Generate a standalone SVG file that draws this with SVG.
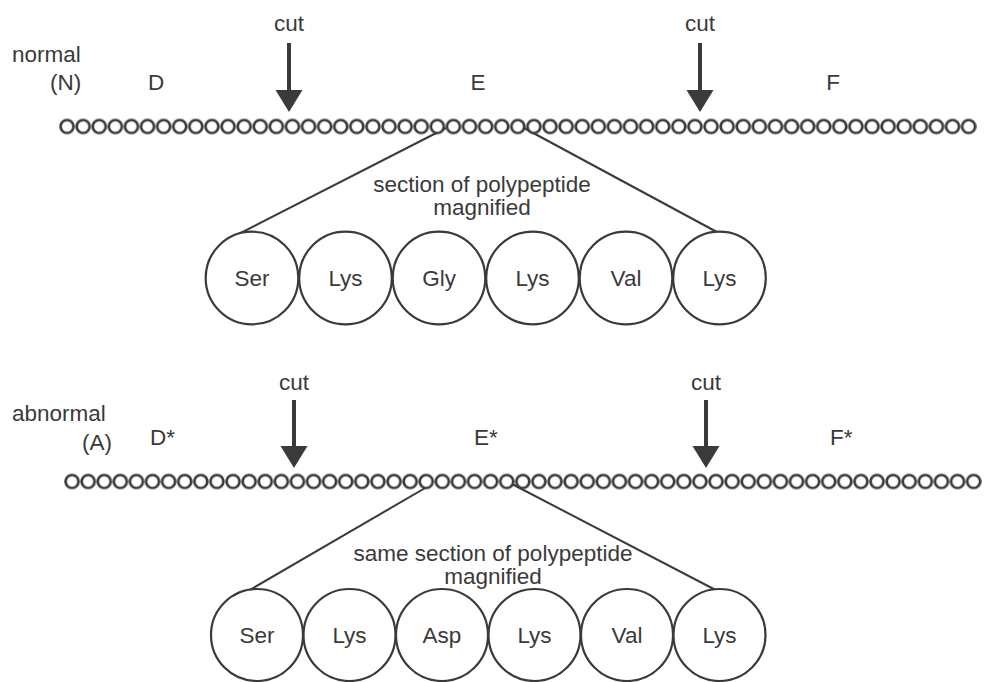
<svg xmlns="http://www.w3.org/2000/svg" width="986" height="682" viewBox="0 0 986 682">
  <style>
    text { font-family: "Liberation Sans", Arial, sans-serif; font-size: 22.5px; fill: #3a3a3a; }
    .mid { text-anchor: middle; }
    .residue { fill: #ffffff; stroke: #3a3a3a; stroke-width: 2.2; }
    .link { stroke: #3a3a3a; stroke-width: 2; fill: none; }
    .shaft { stroke: #3a3a3a; stroke-width: 4; fill: none; }
  </style>
  <defs>
    <!-- one bead of the polypeptide chain, repeated along the strand -->
    <pattern id="beadsTop" patternUnits="userSpaceOnUse" x="59" y="118.5" width="16.1" height="16">
      <circle cx="8.05" cy="8" r="6.5" fill="#ffffff" stroke="#3a3a3a" stroke-width="2.7"/>
    </pattern>
    <pattern id="beadsBottom" patternUnits="userSpaceOnUse" x="64" y="473.5" width="16.1" height="16">
      <circle cx="8.05" cy="8" r="6.5" fill="#ffffff" stroke="#3a3a3a" stroke-width="2.7"/>
    </pattern>
    <marker id="head" markerUnits="userSpaceOnUse" markerWidth="24" markerHeight="28" refX="0" refY="13.5" orient="auto">
      <path d="M0,0 L22,13.5 L0,27 Z" fill="#3a3a3a"/>
    </marker>
  </defs>

  <!-- connectors: cut arrows and magnification lines (drawn first so residue circles sit on top) -->
  <g id="connectors">
    <line class="shaft" x1="289" y1="43" x2="289" y2="90" marker-end="url(#head)"/>
    <line class="shaft" x1="700" y1="43" x2="700" y2="90" marker-end="url(#head)"/>
    <line class="shaft" x1="294" y1="400" x2="294" y2="446" marker-end="url(#head)"/>
    <line class="shaft" x1="706" y1="400" x2="706" y2="446" marker-end="url(#head)"/>
    <line class="link" x1="446" y1="128" x2="231" y2="238"/>
    <line class="link" x1="524" y1="128" x2="728" y2="238"/>
    <line class="link" x1="432" y1="484" x2="236" y2="598"/>
    <line class="link" x1="512" y1="484" x2="731" y2="598"/>
  </g>

  <!-- normal polypeptide -->
  <g id="normal-label">
    <text x="12" y="62">normal</text>
    <text x="50" y="90">(N)</text>
  </g>
  <g id="normal-regions">
    <text x="148" y="90">D</text>
    <text class="mid" x="478" y="90">E</text>
    <text class="mid" x="833" y="90">F</text>
  </g>
  <g id="normal-cut-left">
    <text class="mid" x="289" y="31">cut</text>
  </g>
  <g id="normal-cut-right">
    <text class="mid" x="700" y="31">cut</text>
  </g>
  <g id="normal-chain">
    <rect x="59" y="118.5" width="918" height="16" fill="url(#beadsTop)"/>
  </g>
  <g id="normal-magnified-caption">
    <text class="mid" x="482" y="192">section of polypeptide</text>
    <text class="mid" x="482" y="215">magnified</text>
  </g>
  <g id="normal-residues">
    <g id="n-ser"><circle class="residue" cx="252" cy="278" r="46.3"/><text class="mid" x="252" y="286">Ser</text></g>
    <g id="n-lys1"><circle class="residue" cx="345.5" cy="278" r="46.3"/><text class="mid" x="345.5" y="286">Lys</text></g>
    <g id="n-gly"><circle class="residue" cx="439" cy="278" r="46.3"/><text class="mid" x="439" y="286">Gly</text></g>
    <g id="n-lys2"><circle class="residue" cx="532.5" cy="278" r="46.3"/><text class="mid" x="532.5" y="286">Lys</text></g>
    <g id="n-val"><circle class="residue" cx="626" cy="278" r="46.3"/><text class="mid" x="626" y="286">Val</text></g>
    <g id="n-lys3"><circle class="residue" cx="719.5" cy="278" r="46.3"/><text class="mid" x="719.5" y="286">Lys</text></g>
  </g>

  <!-- abnormal polypeptide -->
  <g id="abnormal-label">
    <text x="12" y="421">abnormal</text>
    <text x="82" y="450">(A)</text>
  </g>
  <g id="abnormal-regions">
    <text x="150" y="445">D*</text>
    <text x="474" y="445">E*</text>
    <text x="830" y="445">F*</text>
  </g>
  <g id="abnormal-cut-left">
    <text class="mid" x="294" y="390">cut</text>
  </g>
  <g id="abnormal-cut-right">
    <text class="mid" x="706" y="390">cut</text>
  </g>
  <g id="abnormal-chain">
    <rect x="64" y="473.5" width="918" height="16" fill="url(#beadsBottom)"/>
  </g>
  <g id="abnormal-magnified-caption">
    <text class="mid" x="493" y="561">same section of polypeptide</text>
    <text class="mid" x="493" y="584">magnified</text>
  </g>
  <g id="abnormal-residues">
    <g id="a-ser"><circle class="residue" cx="257" cy="635" r="46"/><text class="mid" x="257" y="643">Ser</text></g>
    <g id="a-lys1"><circle class="residue" cx="349.5" cy="635" r="46"/><text class="mid" x="349.5" y="643">Lys</text></g>
    <g id="a-asp"><circle class="residue" cx="442" cy="635" r="46"/><text class="mid" x="442" y="643">Asp</text></g>
    <g id="a-lys2"><circle class="residue" cx="534.5" cy="635" r="46"/><text class="mid" x="534.5" y="643">Lys</text></g>
    <g id="a-val"><circle class="residue" cx="627" cy="635" r="46"/><text class="mid" x="627" y="643">Val</text></g>
    <g id="a-lys3"><circle class="residue" cx="719.5" cy="635" r="46"/><text class="mid" x="719.5" y="643">Lys</text></g>
  </g>
</svg>
